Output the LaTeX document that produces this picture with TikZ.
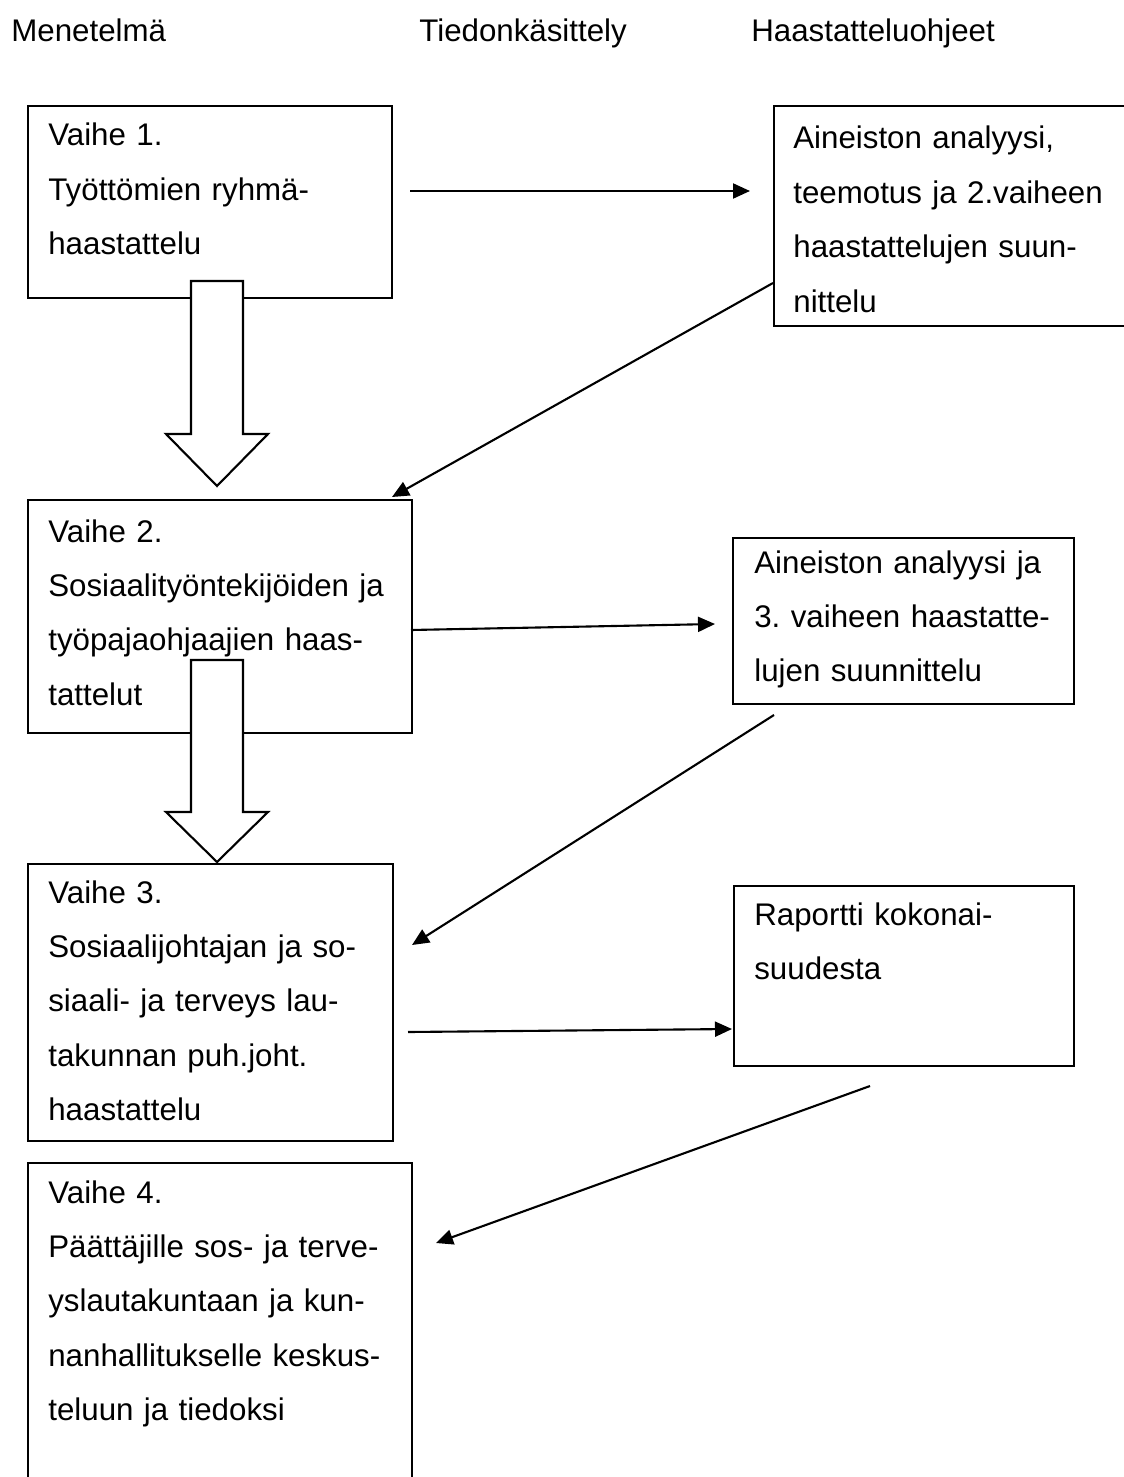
\documentclass[tikz,border=0pt]{standalone}
\usepackage{fontspec}
\setmainfont{Liberation Sans}
\frenchspacing
\usetikzlibrary{arrows.meta}
\tikzstyle{stage} = [rectangle, draw=black, line width=1.2pt, anchor=north west, inner sep=0pt]
\tikzstyle{txt} = [anchor=base west, align=left, text width=8cm, inner sep=0pt, font=\fontsize{17.8pt}{31pt}\selectfont]
\tikzstyle{arrow} = [line width=1.2pt, -{Triangle[length=3.4mm, width=3mm]}]
\tikzstyle{bigarrow} = [draw=black, line width=1.2pt, fill=white]

\begin{document}
\begin{tikzpicture}[x=0.02cm, y=-0.02cm]

\useasboundingbox (0,0) rectangle (1123,1477);

% column headings
\node (hmen) [txt] at (11,42) {Menetelmä};
\node (htied) [txt] at (419,42) {Tiedonkäsittely};
\node (hhaas) [txt] at (751,42) {Haastatteluohjeet};

% stages
\node (v1) [stage, minimum width=7.28cm, minimum height=3.84cm] at (27,105) {};
\node (v2) [stage, minimum width=7.68cm, minimum height=4.66cm] at (27,499) {};
\node (v3) [stage, minimum width=7.30cm, minimum height=5.54cm] at (27,863) {};
\node (v4) [stage, minimum width=7.68cm, minimum height=6.80cm] at (27,1162) {};

\node (v1txt) [txt] at (48,146) {Vaihe 1.\\Työttömien ryhmä-\\haastattelu};
\node (v2txt) [txt] at (48,542) {Vaihe 2.\\Sosiaalityöntekijöiden ja\\työpajaohjaajien haas-\\tattelut};
\node (v3txt) [txt] at (48,903) {Vaihe 3.\\Sosiaalijohtajan ja so-\\siaali- ja terveys lau-\\takunnan puh.joht.\\haastattelu};
\node (v4txt) [txt] at (48,1203) {Vaihe 4.\\Päättäjille sos- ja terve-\\yslautakuntaan ja kun-\\nanhallitukselle keskus-\\teluun ja tiedoksi};

% analysis boxes
\node (an1) [stage, minimum width=7.24cm, minimum height=4.40cm] at (773,105) {};
\node (an2) [stage, minimum width=6.82cm, minimum height=3.32cm] at (732,537) {};
\node (rap) [stage, minimum width=6.80cm, minimum height=3.60cm] at (733,885) {};

\node (an1txt) [txt] at (793,149) {Aineiston analyysi,\\teemotus ja 2.vaiheen\\haastattelujen suun-\\nittelu};
\node (an2txt) [txt] at (754,573) {Aineiston analyysi ja\\3. vaiheen haastatte-\\lujen suunnittelu};
\node (raptxt) [txt] at (754,925) {Raportti kokonai-\\suudesta};

% hollow arrows between stages
\draw [bigarrow] (191,281) -- (243,281) -- (243,434) -- (268,434) -- (217,486) -- (166,434) -- (191,434) -- cycle;
\draw [bigarrow] (191,660) -- (243,660) -- (243,812) -- (268,812) -- (217,862) -- (166,812) -- (191,812) -- cycle;

% arrow ends
\coordinate (a1s) at (410,191);
\coordinate (a1e) at (750,191);
\coordinate (a2s) at (773,283);
\coordinate (a2e) at (392,497);
\coordinate (a3s) at (411,630);
\coordinate (a3e) at (715,624);
\coordinate (a4s) at (774,715);
\coordinate (a4e) at (412,945);
\coordinate (a5s) at (408,1032);
\coordinate (a5e) at (732,1029);
\coordinate (a6s) at (870,1086);
\coordinate (a6e) at (436,1243);

\draw [arrow] (a1s) -- (a1e);
\draw [arrow] (a2s) -- (a2e);
\draw [arrow] (a3s) -- (a3e);
\draw [arrow] (a4s) -- (a4e);
\draw [arrow] (a5s) -- (a5e);
\draw [arrow] (a6s) -- (a6e);

\end{tikzpicture}
\end{document}
